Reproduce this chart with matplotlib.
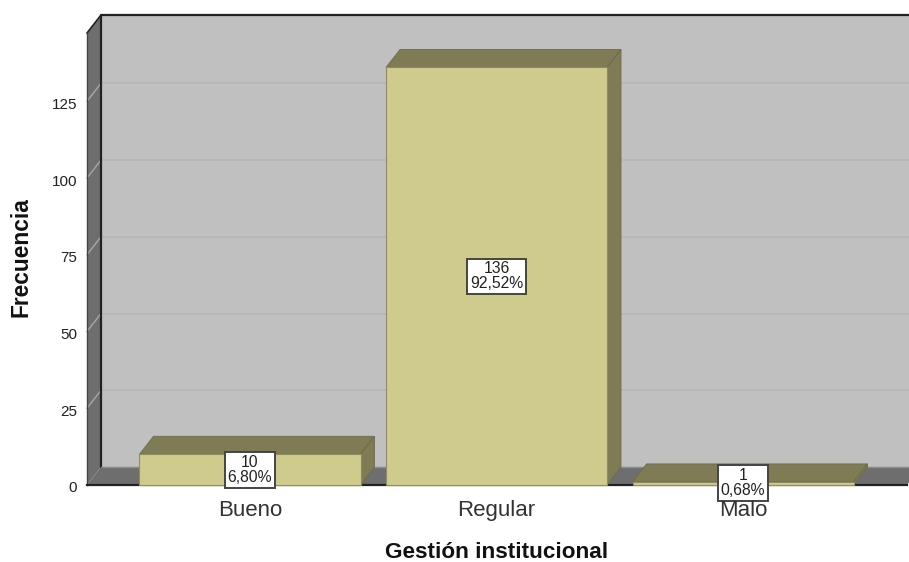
import matplotlib
matplotlib.use("Agg")
import matplotlib.pyplot as plt
from matplotlib.patches import Polygon
from matplotlib.transforms import Affine2D

plt.rcParams['font.family'] = ['Liberation Sans', 'DejaVu Sans']

categories = ["Bueno", "Regular", "Malo"]
counts = [10, 136, 1]
percents = ["6,80%", "92,52%", "0,68%"]
y_ticks = [0, 25, 50, 75, 100, 125]

W, H = 909, 562
L, R, B, T = 87, 907, 485, 33
DX, DY = 14, 18
UNIT = 3.07
CAT_STEP = 246.5
CAT0 = 250
BAR_W = 221 / CAT_STEP

fig = plt.figure(figsize=(W / 100, H / 100), dpi=100, facecolor='white')
ax = fig.add_axes([L / W, 1 - B / H, (R - L) / W, (B - T) / H])
ax.set_xlim((L - CAT0) / CAT_STEP, (R - CAT0) / CAT_STEP)
ax.set_ylim(0, (B - T) / UNIT)
ax.patch.set_visible(False)
for s in ax.spines.values():
    s.set_visible(False)

back = ax.transData + Affine2D().translate(DX, DY)
x0, x1 = ax.get_xlim()
y0, y1 = ax.get_ylim()
data_to_px = ax.transData


def depth_poly(pts, color, z, ec='none', lw=0):
    """pts: (x, y, depth 0/1) in data coordinates, depth shifted in pixels."""
    disp = [data_to_px.transform((x, y)) + (DX * d, DY * d) for x, y, d in pts]
    p = Polygon(disp, closed=True, transform=None, facecolor=color, edgecolor=ec,
                linewidth=lw, zorder=z, clip_on=False)
    ax.add_artist(p)
    return p


# walls
depth_poly([(x0, y0, 1), (x1, y0, 1), (x1, y1, 1), (x0, y1, 1)], '#c0c0c0', 1)
depth_poly([(x0, y0, 0), (x0, y1, 0), (x0, y1, 1), (x0, y0, 1)], '#6e6e6e', 1.1)
depth_poly([(x0, y0, 0), (x1, y0, 0), (x1, y0, 1), (x0, y0, 1)], '#6e6e6e', 1.1)

# grid lines on the walls
for v in y_ticks[1:]:
    ax.plot([x0, x1], [v, v], transform=back, color='#b5b5b5', lw=1.1, zorder=1.2, clip_on=False)
    a = data_to_px.transform((x0, v))
    ax.plot([a[0], a[0] + DX], [a[1], a[1] + DY], transform=None, color='#a8a8a8',
            lw=1, zorder=1.2, clip_on=False)

# wall edges
edge = '#222222'
a = data_to_px.transform((x0, y0))
b = data_to_px.transform((x0, y1))
c = data_to_px.transform((x1, y1))
e = data_to_px.transform((x1, y0))
ax.plot([a[0] + DX, b[0] + DX, c[0] + DX], [a[1] + DY, b[1] + DY, c[1] + DY], transform=None,
        color=edge, lw=1.6, zorder=1.3, clip_on=False)
ax.plot([b[0], b[0] + DX], [b[1], b[1] + DY], transform=None, color=edge, lw=1.2, zorder=1.3, clip_on=False)
ax.plot([a[0], b[0]], [a[1], b[1]], transform=None, color='#444444', lw=1, zorder=1.3, clip_on=False)
ax.plot([a[0], e[0]], [a[1], e[1]], transform=None, color=edge, lw=1.6, zorder=1.3, clip_on=False)
ax.plot([a[0] + DX, e[0] + DX], [a[1] + DY, e[1] + DY], transform=None, color='#8a8a8a', lw=1, zorder=1.3, clip_on=False)

# bars
xs = list(range(len(categories)))
ax.bar(xs, counts, width=BAR_W, color='#cfcb8d', edgecolor='#8f8c62', linewidth=0.8, zorder=3, clip_on=False)
for i, v in zip(xs, counts):
    l, r = i - BAR_W / 2, i + BAR_W / 2
    depth_poly([(l, v, 0), (r, v, 0), (r, v, 1), (l, v, 1)], '#7f7b55', 2.8, '#6f6b48', 0.6)
    depth_poly([(r, 0, 0), (r, v, 0), (r, v, 1), (r, 0, 1)], '#7f7b55', 2.8, '#6f6b48', 0.6)

# value labels
label_y = [4.9, 68, 0.65]
for i, v, pct, ly in zip(xs, counts, percents, label_y):
    ax.annotate(f"{v}\n{pct}", xy=(i, ly), ha='center', va='center', fontsize=11.3, color='#222222',
                linespacing=1.03, zorder=6, annotation_clip=False,
                bbox=dict(boxstyle='square,pad=0.16', facecolor='white', edgecolor='#444444', linewidth=1.4))

# axes text
ax.set_xticks(xs)
ax.set_xticklabels(categories, fontsize=16, color='#333333')
ax.set_yticks(y_ticks)
ax.set_yticklabels([str(t) for t in y_ticks], fontsize=11, color='#222222')
ax.tick_params(axis='x', length=0, pad=11)
ax.tick_params(axis='y', length=0, pad=7)
ax.xaxis.set_zorder(7)
ax.yaxis.set_zorder(7)
for t in ax.get_yticklabels():
    t.set_transform(t.get_transform() + Affine2D().translate(0, -2))

fig.text(21 / W, 1 - 257 / H, "Frecuencia", rotation=90, ha='center', va='center',
         fontsize=16.4, fontweight='bold', color='#111111')
fig.text(497 / W, 1 - 552 / H, "Gestión institucional", ha='center', va='center',
         fontsize=16.2, fontweight='bold', color='#111111')

fig.savefig("out.png", dpi=100, facecolor='white')
